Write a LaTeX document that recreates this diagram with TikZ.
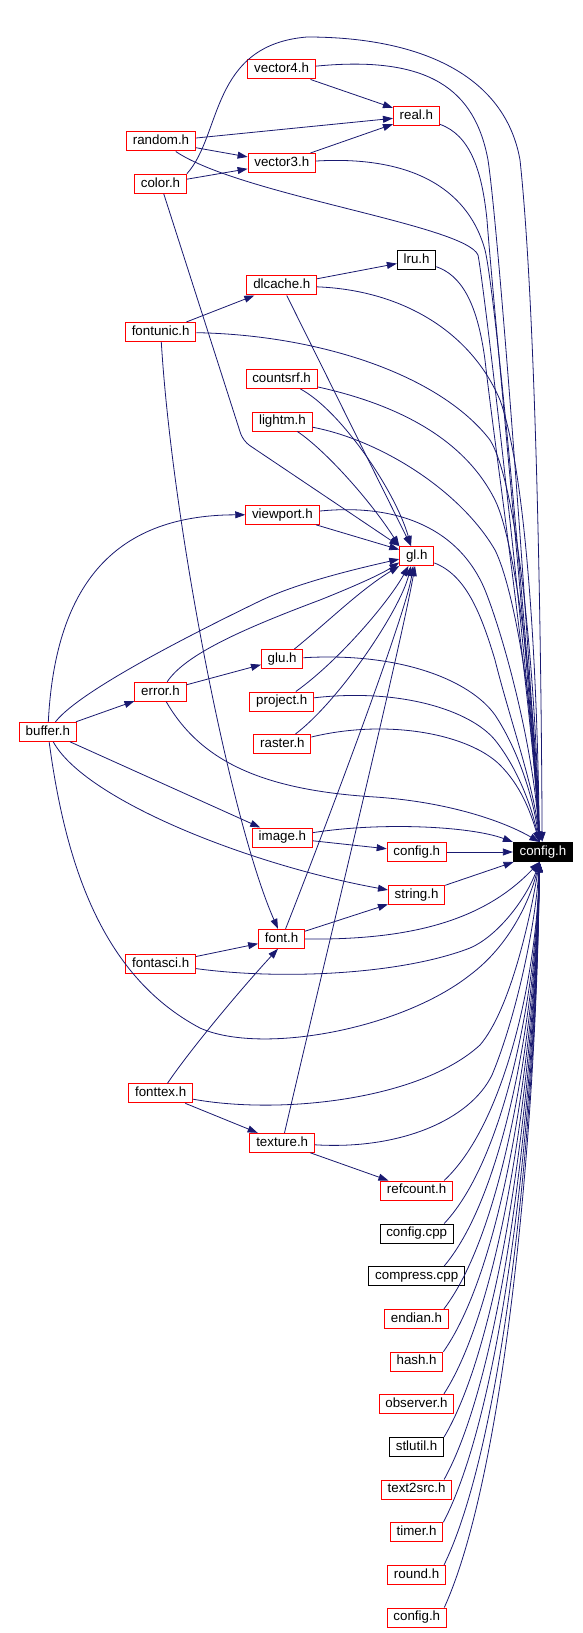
\documentclass[tikz,border=0pt]{standalone}
\usepackage{fontspec}
\setmainfont{Liberation Sans}
\usepackage{tikz}
\usetikzlibrary{arrows.meta}
\definecolor{edgeblue}{RGB}{25,25,112}
\definecolor{boxred}{RGB}{255,0,0}

\begin{document}
\begin{tikzpicture}[
	x=0.75pt, y=-0.75pt,
	hdr/.style={rectangle, draw=boxred, line width=0.75pt, fill=white, inner xsep=4.7pt, inner ysep=0pt,
		minimum height=14.25pt, text height=7.3pt, text depth=2.1pt, font=\fontsize{10pt}{12pt}\selectfont},
	src/.style={hdr, draw=black},
	current/.style={hdr, draw=black, fill=black, text=white},
	arrow/.style={-{Triangle[length=7.5pt, width=5.2pt]}, line width=0.6pt, color=edgeblue}
	]
	
	\fill[white] (0,0) rectangle (582,1633);
	
	% Nodes
	\node[current] (config) at (543,852) {config.h};
	\node[hdr] (vector4) at (281.6,69.5) {vector4.h};
	\node[hdr] (real) at (416.4,116) {real.h};
	\node[hdr] (random) at (161,141.5) {random.h};
	\node[hdr] (vector3) at (281.8,163) {vector3.h};
	\node[hdr] (color) at (160.5,183.7) {color.h};
	\node[src] (lru) at (416.6,259.8) {lru.h};
	\node[hdr] (dlcache) at (281.8,285.5) {dlcache.h};
	\node[hdr] (fontunic) at (160.7,332) {fontunic.h};
	\node[hdr] (countsrf) at (281.6,379) {countsrf.h};
	\node[hdr] (lightm) at (282.4,421.5) {lightm.h};
	\node[hdr] (viewport) at (282.4,514.8) {viewport.h};
	\node[hdr] (gl) at (416.8,556) {gl.h};
	\node[hdr] (glu) at (282.2,659) {glu.h};
	\node[hdr] (error) at (160.5,691.8) {error.h};
	\node[hdr] (project) at (281.8,701.5) {project.h};
	\node[hdr] (buffer) at (47.8,731.8) {buffer.h};
	\node[hdr] (raster) at (282.4,744) {raster.h};
	\node[hdr] (image) at (282.4,837.5) {image.h};
	\node[hdr] (configmid) at (416.8,852) {config.h};
	\node[hdr] (string) at (416.6,895) {string.h};
	\node[hdr] (font) at (281.6,938.8) {font.h};
	\node[hdr] (fontasci) at (160.7,963.8) {fontasci.h};
	\node[hdr] (fonttex) at (160.7,1093.3) {fonttex.h};
	\node[hdr] (texture) at (282.2,1142.8) {texture.h};
	\node[hdr] (refcount) at (416.6,1190.5) {refcount.h};
	\node[src] (configcpp) at (416.7,1233.5) {config.cpp};
	\node[src] (compress) at (416.7,1276) {compress.cpp};
	\node[hdr] (endian) at (416.5,1318.8) {endian.h};
	\node[hdr] (hash) at (416.6,1361.5) {hash.h};
	\node[hdr] (observer) at (416.5,1403.8) {observer.h};
	\node[src] (stlutil) at (416.6,1447) {stlutil.h};
	\node[hdr] (text2src) at (416.6,1489.5) {text2src.h};
	\node[hdr] (timer) at (416.6,1532) {timer.h};
	\node[hdr] (round) at (416.6,1574.8) {round.h};
	\node[hdr] (configbot) at (416.8,1617.5) {config.h};
	
	% Arrows
	\draw[arrow] (vector4) -- (real);
	\draw[arrow] (random) -- (real);
	\draw[arrow] (vector3) -- (real);
	\draw[arrow] (random) -- (vector3);
	\draw[arrow] (color) -- (vector3);
	\draw[arrow] (dlcache) -- (lru);
	\draw[arrow] (fontunic) -- (dlcache.200);
	\draw[arrow] (fontunic) .. controls (172,520) and (230,820) .. (font.110);
	\draw[arrow] (buffer) .. controls (55,590) and (110,515) .. (viewport.west);
	\draw[arrow] (buffer) -- (error);
	\draw[arrow] (error) -- (glu);
	\draw[arrow] (buffer) -- (image);
	\draw[arrow] (buffer) .. controls (85,800) and (250,865) .. (string.170);
	\draw[arrow] (font) -- (string);
	\draw[arrow] (fontasci) -- (font);
	\draw[arrow] (fonttex) .. controls (190,1050) and (240,990) .. (font.250);
	\draw[arrow] (fonttex) -- (texture);
	\draw[arrow] (texture) -- (refcount);
	\draw[arrow] (image) -- (configmid);
	
	% into gl.h
	\draw[arrow, rounded corners=6pt] (color) -- (243,441) -- (gl.north west);
	\draw[arrow] (dlcache) -- (gl.120);
	\draw[arrow] (countsrf) .. controls (340,410) and (395,490) .. (gl.120);
	\draw[arrow] (lightm) .. controls (325,450) and (370,500) .. (gl.north west);
	\draw[arrow] (viewport) -- (gl.160);
	\draw[arrow] (buffer) .. controls (80,690) and (200,630) .. (262,600) .. controls (300,582) and (360,568) .. (gl.190);
	\draw[arrow] (error) .. controls (185,655) and (240,630) .. (320,600) .. controls (350,588) and (380,575) .. (gl.200);
	\draw[arrow] (glu) .. controls (330,620) and (360,590) .. (gl.south west);
	\draw[arrow] (project) .. controls (340,660) and (390,600) .. (gl.230);
	\draw[arrow] (raster) .. controls (340,700) and (400,610) .. (gl.240);
	\draw[arrow] (font) .. controls (305,880) and (405,620) .. (gl.250);
	\draw[arrow] (texture) .. controls (320,980) and (400,650) .. (gl.260);
	
	% into config.h from above
	\draw[arrow] (color.north east) .. controls (222,135) and (210,45) .. (307,37) .. controls (420,37) and (505,75) .. (520,160) .. controls (535,300) and (541,600) .. (config.95);
	\draw[arrow] (vector4) .. controls (430,55) and (475,90) .. (488,160) .. controls (500,240) and (533,700) .. (config.110);
	\draw[arrow] (real) .. controls (470,135) and (482,170) .. (487,220) .. controls (493,300) and (532,700) .. (config.110);
	\draw[arrow] (vector3) .. controls (420,155) and (470,195) .. (485,250) .. controls (497,300) and (533,700) .. (config.110);
	\draw[arrow] (random) .. controls (240,195) and (465,225) .. (478,255) .. controls (485,290) and (532,700) .. (config.110);
	\draw[arrow] (lru) .. controls (460,275) and (477,300) .. (485,360) .. controls (495,450) and (532,700) .. (config.110);
	\draw[arrow] (dlcache) .. controls (400,290) and (470,330) .. (500,400) .. controls (525,470) and (537,650) .. (config.110);
	\draw[arrow] (fontunic) .. controls (320,335) and (440,375) .. (490,440) .. controls (515,480) and (535,650) .. (config.110);
	\draw[arrow] (countsrf) .. controls (400,405) and (465,440) .. (495,500) .. controls (515,540) and (536,700) .. (config.110);
	\draw[arrow] (lightm) .. controls (380,440) and (460,490) .. (495,550) .. controls (515,590) and (536,720) .. (config.110);
	\draw[arrow] (viewport) .. controls (400,503) and (460,530) .. (485,590) .. controls (505,640) and (534,750) .. (config.110);
	\draw[arrow] (gl) .. controls (465,575) and (480,610) .. (495,660) .. controls (510,720) and (535,790) .. (config.110);
	\draw[arrow] (glu) .. controls (400,652) and (470,680) .. (495,715) .. controls (515,745) and (532,790) .. (config.110);
	\draw[arrow] (project) .. controls (400,688) and (470,710) .. (495,740) .. controls (515,765) and (530,800) .. (config.110);
	\draw[arrow] (raster) .. controls (390,718) and (470,735) .. (500,765) .. controls (520,785) and (530,810) .. (config.110);
	\draw[arrow] (error) .. controls (200,760) and (260,790) .. (375,797) .. controls (450,802) and (505,822) .. (config.110);
	\draw[arrow] (image) .. controls (380,822) and (470,826) .. (config.north west);
	\draw[arrow] (configmid) -- (config);
	\draw[arrow] (string) -- (config);
	
	% into config.h from below
	\draw[arrow] (font) .. controls (400,940) and (480,925) .. (config.250);
	\draw[arrow] (fontasci) .. controls (280,980) and (400,975) .. (470,948) .. controls (500,935) and (528,895) .. (config.250);
	\draw[arrow] (buffer) .. controls (65,860) and (100,975) .. (200,1028) .. controls (260,1055) and (400,1030) .. (470,975) .. controls (510,945) and (530,900) .. (config.250);
	\draw[arrow] (fonttex) .. controls (280,1115) and (420,1100) .. (480,1045) .. controls (510,1010) and (530,920) .. (config.250);
	\draw[arrow] (texture) .. controls (400,1150) and (470,1120) .. (492,1075) .. controls (515,1020) and (535,930) .. (config.250);
	\draw[arrow] (refcount.20) .. controls (505,1124) and (537,974) .. (config.250);
	\draw[arrow] (configcpp.20) .. controls (505,1159) and (537,989) .. (config.250);
	\draw[arrow] (compress.20) .. controls (505,1194) and (537,1004) .. (config.250);
	\draw[arrow] (endian.20) .. controls (505,1229) and (537,1019) .. (config.250);
	\draw[arrow] (hash.20) .. controls (505,1264) and (537,1034) .. (config.250);
	\draw[arrow] (observer.20) .. controls (505,1299) and (537,1048) .. (config.250);
	\draw[arrow] (stlutil.20) .. controls (505,1334) and (537,1063) .. (config.250);
	\draw[arrow] (text2src.20) .. controls (505,1369) and (537,1078) .. (config.250);
	\draw[arrow] (timer.20) .. controls (505,1404) and (537,1093) .. (config.250);
	\draw[arrow] (round.20) .. controls (505,1439) and (537,1108) .. (config.250);
	\draw[arrow] (configbot.20) .. controls (505,1474) and (537,1123) .. (config.250);
	
\end{tikzpicture}
\end{document}
